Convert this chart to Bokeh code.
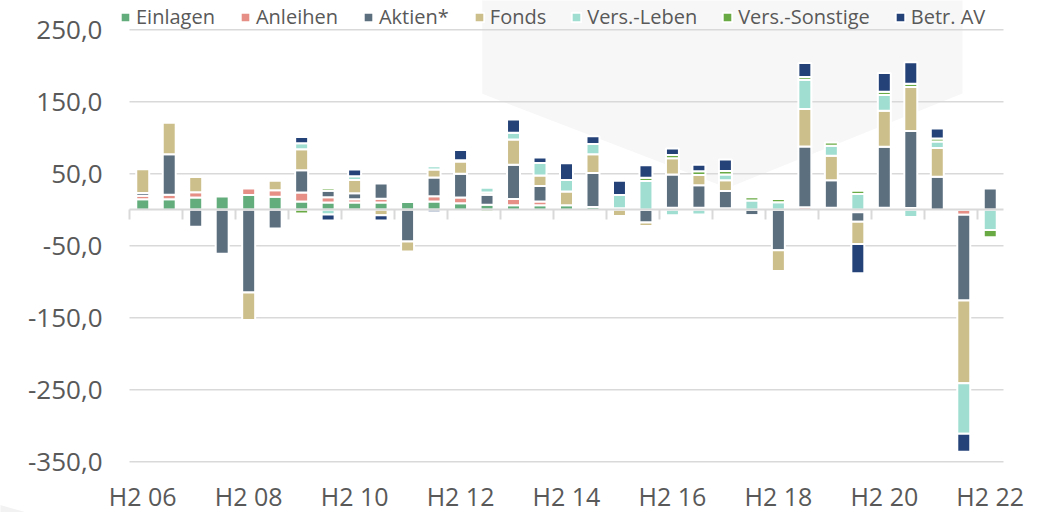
from bokeh.plotting import figure
from bokeh.models import ColumnDataSource, Range1d, FixedTicker, LinearAxis, Legend, LegendItem
from bokeh.embed import file_html
from bokeh.resources import INLINE

# ---------------- data ----------------
periods = ["H2 06", "H1 07", "H2 07", "H1 08", "H2 08", "H1 09", "H2 09", "H1 10", "H2 10",
           "H1 11", "H2 11", "H1 12", "H2 12", "H1 13", "H2 13", "H1 14", "H2 14", "H1 15",
           "H2 15", "H1 16", "H2 16", "H1 17", "H2 17", "H1 18", "H2 18", "H1 19", "H2 19",
           "H1 20", "H2 20", "H1 21", "H2 21", "H1 22", "H2 22"]

einlagen = [14.5, 14.5, 17, 18.5, 20.5, 18, 11.5, 10, 10, 10, 11, 11.5, 9, 7, 6.5, 6.5, 6.5,
            4, 2, 0, 3, 3, 2, 0, 0, 0, 3, 0, 0, 0, 0, 0, 0]
anleihen = [5, 6.5, 7.5, 0, 9, 9, 12.5, 7.5, 4.5, 5.5, 0, 7.5, 8, 0, 8.5, 5, 0,
            0, 0, 0, 0, 0, 0, 0, 0, 3.5, 0, -3.5, 3, 2.5, 0, -7, 0]
aktien = [4, 56, -23.5, -61, -115, -26, 31, 9, 8.5, 21, -44, 26, 33, 14, 47.5, 21.5, 0,
          47, 0, -17.5, 46, 31, 24, -7.5, -56, 84.5, 38, -13, 84.5, 107, 46, -119, 29.5]
fonds = [33, 44, 21, 0, -38, 13.5, 29, 0, 18.5, -7.5, -14, 11, 17, 3, 35, 14.5, 19,
         26, -8.5, -5, 22.5, 14.5, 15, -2, -29, 52, 34, -31, 50, 61, 40, -115, 0]
vers_leben = [0, 0, 0, 0, 0, 0, 8.5, -6.5, 5, 0, 0, 4.5, 2, 6.5, 9.5, 17.5, 16,
              14.5, 18.5, 40, -7.5, -6.5, 8, 13, 10.5, 40.5, 14, 22, 22, -10, 9, -70, -28]
vers_sonstige = [0, 0, 0, 0, 0, 0, -5, 3.5, -2.5, 0, 0, 0, 0, -3, 0, 0, 0,
                 0, 0, 4.5, 4.5, 5, 5, 4.5, 4.5, 4, 4.5, 4.5, 4.5, 4.5, 4, 2, -10]
betr_av = [0, 0, 0, 0, 0, 0, 8.5, -8.5, 9.5, -7.5, 2.5, -3.5, 14, 0, 18.5, 7.5, 23,
           10.5, 20, 17.5, 9, 9, 16, -2, 0, 19.5, 0, -40.5, 26, 30, 14, -25, 0]

series_names = ["Einlagen", "Anleihen", "Aktien*", "Fonds", "Vers.-Leben", "Vers.-Sonstige", "Betr. AV"]
series_values = [einlagen, anleihen, aktien, fonds, vers_leben, vers_sonstige, betr_av]
series_colors = ["#62ad7b", "#e58f86", "#5b6f7f", "#cdbf8b", "#a0ded1", "#6aaa45", "#244278"]

y_ticks = [-350, -250, -150, -50, 50, 150, 250]
y_tick_labels = ["-350,0", "-250,0", "-150,0", "-50,0", "50,0", "150,0", "250,0"]
x_label_every = 4

FONT = "Open Sans"
TXT = "#595959"
GRID = "#d9d9d9"

n = len(periods)
x_lo, x_hi = -0.5, n - 0.5

# the frame covers the whole canvas; axes are placed at fixed locations inside it
p = figure(width=1053, height=512,
           x_range=Range1d(-5.3707, 34.388), y_range=Range1d(-420.4, 290.7),
           output_backend="svg", toolbar_location=None,
           x_axis_location=None, y_axis_location=None,
           min_border_left=0, min_border_right=0, min_border_top=0, min_border_bottom=0)
p.outline_line_color = None
p.background_fill_color = "white"
p.border_fill_color = "white"
p.grid.visible = False

# faint decorative background shapes (not data)
p.patch(x=[12.82, 30.95, 30.95, 22.08, 12.82], y=[310, 310, 161.5, 30.3, 161.1],
        fill_color="#f7f7f7", line_color=None, level="image")
p.patch(x=[-6, -3.95, -6], y=[-403.5, -425, -425],
        fill_color="#f2f2f2", line_color=None, level="image")

# horizontal grid lines over the category span only
grid_src = ColumnDataSource(dict(y=y_ticks))
p.segment(x0=x_lo, x1=x_hi, y0="y", y1="y", source=grid_src,
          line_color=GRID, line_width=1.5, level="underlay")

# y axis (labels only)
y_axis = LinearAxis(fixed_location=x_lo, ticker=FixedTicker(ticks=y_ticks),
                    major_label_overrides={t: lab for t, lab in zip(y_ticks, y_tick_labels)},
                    axis_line_color=None, major_tick_line_color=None, minor_tick_line_color=None,
                    major_tick_out=0, major_label_standoff=27,
                    major_label_text_font=FONT, major_label_text_font_size="26px",
                    major_label_text_color=TXT)
p.add_layout(y_axis, "left")

# stacked bars (positive and negative stacks separately)
pos = [0.0] * n
neg = [0.0] * n
items = []
for name, vals, color in zip(series_names, series_values, series_colors):
    xs, bs, ts = [], [], []
    for i, v in enumerate(vals):
        if v > 0:
            xs.append(i); bs.append(pos[i]); ts.append(pos[i] + v); pos[i] += v
        elif v < 0:
            xs.append(i); bs.append(neg[i]); ts.append(neg[i] + v); neg[i] += v
    src = ColumnDataSource(dict(x=xs, bottom=bs, top=ts))
    r = p.vbar(x="x", bottom="bottom", top="top", width=0.49, source=src,
               fill_color=color, line_color="white", line_width=2)
    items.append(LegendItem(label=name, renderers=[r]))

# zero axis with category boundary ticks
zero_axis = LinearAxis(fixed_location=0, bounds=(x_lo, x_hi),
                       ticker=FixedTicker(ticks=[], minor_ticks=[k - 0.5 for k in range(0, n, 2)]),
                       axis_line_color=GRID, axis_line_width=2,
                       major_tick_line_color=None,
                       minor_tick_line_color=GRID, minor_tick_line_width=2,
                       minor_tick_in=0, minor_tick_out=10,
                       major_label_text_font_size="0px")
p.add_layout(zero_axis, "below")

# category labels under the plot
label_axis = LinearAxis(fixed_location=y_ticks[0],
                        ticker=FixedTicker(ticks=list(range(0, n, x_label_every))),
                        major_label_overrides={i: periods[i] for i in range(0, n, x_label_every)},
                        axis_line_color=None, major_tick_line_color=None, minor_tick_line_color=None,
                        major_tick_out=0, major_label_standoff=17,
                        major_label_text_font=FONT, major_label_text_font_size="25px",
                        major_label_text_color=TXT)
p.add_layout(label_axis, "below")

legend = Legend(items=items, orientation="horizontal", location=(119, 482),
                glyph_width=12, glyph_height=12, label_standoff=5, spacing=24,
                padding=0, margin=0, border_line_color=None, background_fill_alpha=0,
                label_text_font=FONT, label_text_font_size="20px", label_text_color=TXT)
p.add_layout(legend, "center")

open("out.html", "w").write(file_html(p, INLINE))
